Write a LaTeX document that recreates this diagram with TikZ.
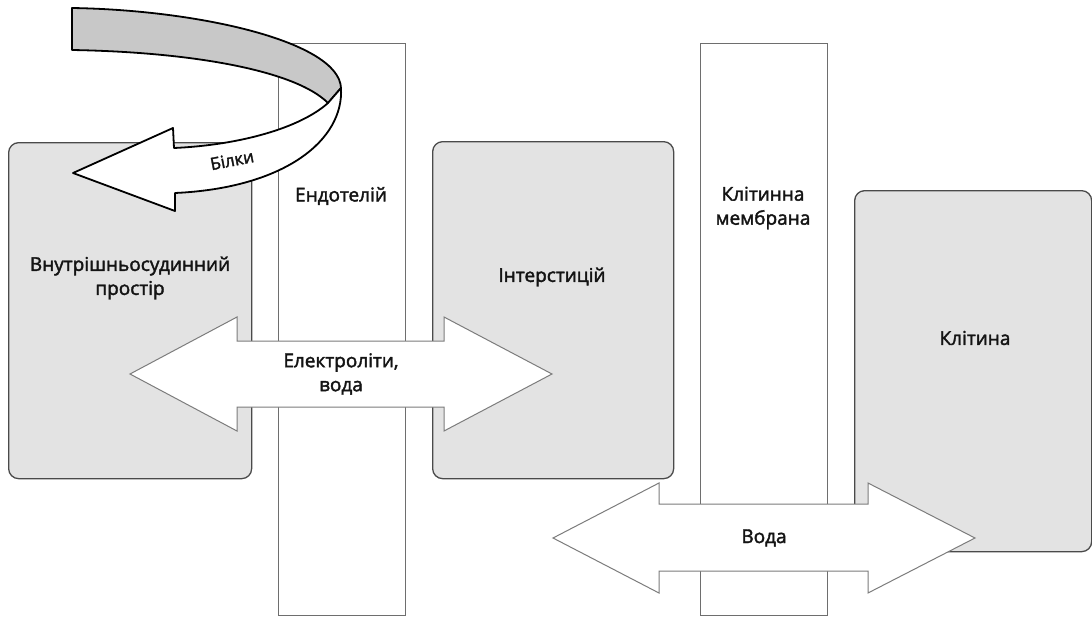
\documentclass[tikz,border=0pt]{standalone}
\usepackage{fontspec}
\setmainfont{Open Sans}[FakeBold=2]
\begin{document}
\begin{tikzpicture}[x=1pt,y=-1pt]
\definecolor{boxgray}{HTML}{E3E3E3}
\definecolor{boxedge}{HTML}{4A4A4A}
\definecolor{walledge}{HTML}{6E6E6E}
\definecolor{arrowedge}{HTML}{7C7C7C}
\definecolor{ribgray}{HTML}{C8C8C8}
\definecolor{textc}{HTML}{141414}
\tikzset{
  region/.style={draw=boxedge, fill=boxgray, line width=1.3pt, rounded corners=10pt, inner sep=0pt, anchor=north west},
  wall/.style={draw=walledge, fill=white, line width=1.2pt, inner sep=0pt, anchor=north west},
  flow/.style={draw=arrowedge, fill=white, line width=1pt, line join=miter},
  band/.style={draw=black, line width=1.8pt, line join=round},
  lbl/.style={font=\fontsize{19}{24}\selectfont, text=textc, align=center, inner sep=0pt},
}
\useasboundingbox (0,0) rectangle (1092,616);
\fill[white] (0,0) rectangle (1092,616);

% walls
\node[wall, minimum width=127pt, minimum height=572pt] (endo) at (278,43) {};
\node[wall, minimum width=127pt, minimum height=572pt] (memb) at (700,43) {};

% regions
\node[region, minimum width=243pt, minimum height=336pt] (ivs) at (8,142) {};
\node[region, minimum width=241pt, minimum height=337pt] (inter) at (432,141) {};
\node[region, minimum width=237pt, minimum height=361pt] (cell) at (854,190) {};

% labels
\node[lbl] (ivsl) at (130,278) {Внутрішньосудинний\\простір};
\node[lbl] (endol) at (341,196) {Ендотелій};
\node[lbl] (interl) at (552,277) {Інтерстицій};
\node[lbl] (membl) at (763,208) {Клітинна\\мембрана};
\node[lbl] (celll) at (975,338) {Клітина};

% electrolytes arrow
\draw[flow] (130,374) -- (237,317) -- (237,341) -- (444,341) -- (444,317) -- (552,374)
  -- (444,431) -- (444,407) -- (237,407) -- (237,431) -- cycle;
\node[lbl] (elec) at (341,374) {Електроліти,\\вода};

% water arrow
\draw[flow] (553,538) -- (659,483) -- (659,504) -- (868,504) -- (868,483) -- (975,538)
  -- (868,593) -- (868,571) -- (659,571) -- (659,593) -- cycle;
\node[lbl] (water) at (764,538) {Вода};

% protein ribbon
\draw[band, fill=ribgray] (72,8) -- (72,50) .. controls (190,52) and (295,70) .. (328,103)
  -- (341,88) .. controls (339,42) and (200,10) .. (72,8) -- cycle;
\draw[band, fill=white] (328,103) -- (341,88) .. controls (344,140) and (285,188) .. (175,193)
  -- (175,211) -- (73,173) -- (173,128) -- (174,148) .. controls (240,145) and (300,128) .. (328,103) -- cycle;
\node[lbl, font=\fontsize{17}{20}\selectfont, rotate=11] (prot) at (232,160) {Білки};
\end{tikzpicture}
\end{document}
